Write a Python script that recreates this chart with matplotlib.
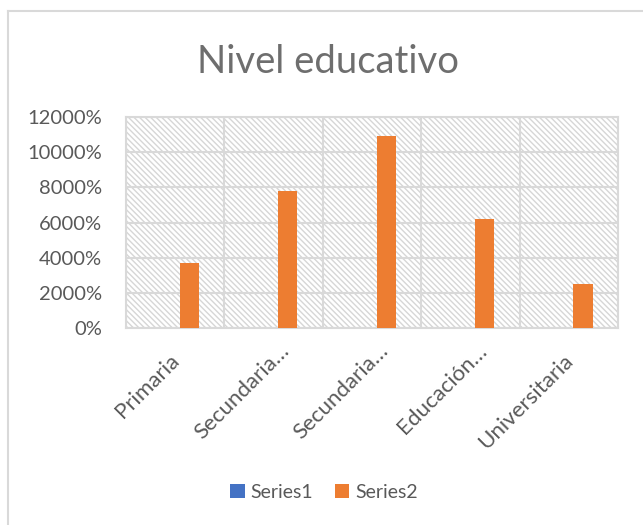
import matplotlib
matplotlib.use("Agg")
import matplotlib.pyplot as plt
from matplotlib.ticker import FuncFormatter, MultipleLocator
from matplotlib.lines import Line2D
from matplotlib.patches import Patch
from matplotlib.transforms import ScaledTranslation
import numpy as np

categories = ["Primaria", "Secundaria…", "Secundaria…", "Educación…", "Universitaria"]
series1 = [0, 0, 0, 0, 0]
series2 = [37, 78, 109, 62, 25]
series_names = ["Series1", "Series2"]
colors = ["#4472C4", "#ED7D31"]

plt.rcParams['font.family'] = ['Lato', 'DejaVu Sans']
plt.rcParams['hatch.color'] = '#D6D6D6'
plt.rcParams['hatch.linewidth'] = 1.0

fig = plt.figure(figsize=(6.43, 5.25), dpi=100)
ax = fig.add_axes([126/643, 1-328/525, (618-126)/643, (328-117)/525])

x = np.arange(len(categories))
w = 0.194
off = 0.144
ax.bar(x - off, series1, width=w, color=colors[0], zorder=3)
ax.bar(x + off, series2, width=w, color=colors[1], zorder=3)

ax.set_xlim(-0.5, len(categories) - 0.5)
ax.set_ylim(0, 120)
ax.yaxis.set_major_locator(MultipleLocator(20))
ax.yaxis.set_major_formatter(FuncFormatter(lambda v, p: f"{int(round(v*100))}%"))

ax.patch.set_facecolor('white')
ax.patch.set_hatch('\\\\\\\\\\\\')
ax.patch.set_edgecolor('#D6D6D6')

ax.set_xticks(x)
ax.set_xticklabels(categories, rotation=45, ha='right', va='top', rotation_mode='anchor')
ax.set_xticks(np.arange(len(categories) + 1) - 0.5, minor=True)
ax.grid(True, axis='y', which='major', color='#D9D9D9', linewidth=1.5, zorder=1)
ax.grid(True, axis='x', which='minor', color='#D9D9D9', linewidth=1.5, zorder=1)
ax.grid(False, axis='x', which='major')
ax.tick_params(axis='both', which='both', length=0, colors='#595959')
ax.tick_params(axis='y', pad=17, labelsize=14.5)
ax.tick_params(axis='x', pad=16, labelsize=16)
for s in ax.spines.values():
    s.set_color('#D9D9D9')
    s.set_linewidth(1.5)

# truncated labels are anchored without their ellipsis (as in the original)
for lbl in ax.get_xticklabels():
    dx, dy = -6, 0
    if lbl.get_text().endswith('…'):
        dx, dy = 6, 10
    lbl.set_transform(lbl.get_transform() +
                      ScaledTranslation(dx/100, dy/100, fig.dpi_scale_trans))

fig.text(328/643, 1 - 62/525, "Nivel educativo", ha='center', va='center',
         fontsize=27.5, color='#6E6E6E')

handles = [Patch(facecolor=c, edgecolor='none') for c in colors]
fig.legend(handles, series_names, loc='center', bbox_to_anchor=(324/643, 1 - 492/525),
           ncol=2, frameon=False, fontsize=14, labelcolor='#595959',
           handlelength=0.75, handleheight=0.75, handletextpad=0.3, columnspacing=1.1)

# outer chart border (top and left visible)
fig.add_artist(Line2D([8/643, 8/643], [0, 1 - 11/525], transform=fig.transFigure,
                      color='#D9D9D9', linewidth=1.5))
fig.add_artist(Line2D([8/643, 1], [1 - 11/525, 1 - 11/525], transform=fig.transFigure,
                      color='#D9D9D9', linewidth=1.5))

fig.savefig("out.png", dpi=100)
